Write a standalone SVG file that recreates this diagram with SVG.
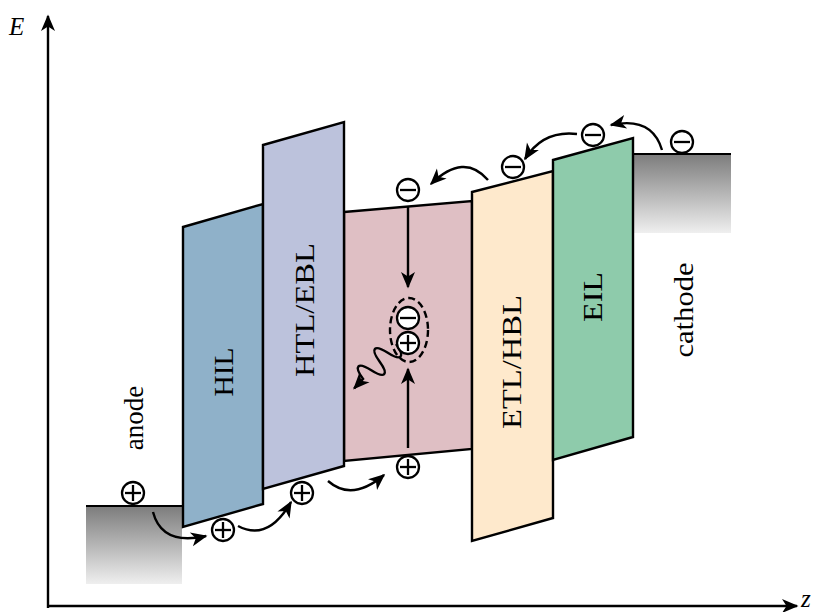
<svg xmlns="http://www.w3.org/2000/svg" xmlns:xlink="http://www.w3.org/1999/xlink" width="822" height="612" viewBox="0 0 822 612">
  <style>
    .layer { stroke: #000; stroke-width: 2.4; stroke-linejoin: miter; }
    .lbl { font-family: "Liberation Serif", "DejaVu Serif", serif; font-size: 27px; fill: #000; text-anchor: middle; }
    .axlbl { font-family: "Liberation Serif", "DejaVu Serif", serif; font-style: italic; font-size: 25px; fill: #000; }
    .edge { stroke: #000; stroke-width: 2.4; fill: none; }
    .arr { marker-end: url(#stealth); }
    .chg circle { fill: #fff; stroke: #000; stroke-width: 2.3; }
    .chg line { stroke: #000; stroke-width: 2.3; }
  </style>
  <defs>
    <linearGradient id="metal" x1="0" y1="0" x2="0" y2="1">
      <stop offset="0" stop-color="#7c7c7c"/>
      <stop offset="1" stop-color="#efefef"/>
    </linearGradient>
    <marker id="stealth" viewBox="-18 -9 20 18" markerWidth="20" markerHeight="18" refX="0" refY="0" orient="auto" markerUnits="userSpaceOnUse">
      <path d="M1.5,0 L-15,-7 L-10.5,0 L-15,7 Z" fill="#000"/>
    </marker>
    <g id="hole" class="chg">
      <circle r="11"/>
      <line x1="-8" y1="0" x2="8" y2="0"/>
      <line x1="0" y1="-8" x2="0" y2="8"/>
    </g>
    <g id="electron" class="chg">
      <circle r="11"/>
      <line x1="-8" y1="0" x2="8" y2="0" stroke-width="3"/>
    </g>
  </defs>

  <!-- energy and position axes -->
  <g id="axes">
    <line class="edge arr" x1="48" y1="608" x2="48" y2="16"/>
    <line class="edge arr" x1="47" y1="606" x2="797" y2="606"/>
    <text class="axlbl" x="9" y="35">E</text>
    <text class="axlbl" x="801" y="607" font-size="22">z</text>
  </g>

  <!-- anode contact -->
  <g id="anode">
    <rect x="86" y="506" width="96" height="78" fill="url(#metal)"/>
    <line x1="86" y1="506" x2="182" y2="506" stroke="#000" stroke-width="2.2"/>
    <text class="lbl" transform="translate(143,418) rotate(-90)">anode</text>
  </g>

  <!-- cathode contact -->
  <g id="cathode">
    <rect x="633" y="154" width="98" height="79" fill="url(#metal)"/>
    <line x1="633" y1="154" x2="731" y2="154" stroke="#000" stroke-width="2.2"/>
    <text class="lbl" transform="translate(693,310) rotate(-90)" textLength="95" lengthAdjust="spacingAndGlyphs">cathode</text>
  </g>

  <!-- emissive layer -->
  <g id="eml">
    <polygon class="layer" fill="#dfbfc4" points="344,212 472,201 472,449 344,461"/>
  </g>

  <!-- hole injection layer -->
  <g id="hil">
    <polygon class="layer" fill="#8fb1c9" points="183,227 263,204 263,504 183,527"/>
    <text class="lbl" transform="translate(233,372) rotate(-90)" textLength="49" lengthAdjust="spacingAndGlyphs">HIL</text>
  </g>

  <!-- hole transport / electron blocking layer -->
  <g id="htl">
    <polygon class="layer" fill="#bcc2dc" points="263,145 344,122 344,466 263,489"/>
    <text class="lbl" transform="translate(314,310) rotate(-90)" textLength="134" lengthAdjust="spacingAndGlyphs">HTL/EBL</text>
  </g>

  <!-- electron transport / hole blocking layer -->
  <g id="etl">
    <polygon class="layer" fill="#fee9cc" points="472,192 553,171 553,518 472,541"/>
    <text class="lbl" transform="translate(521,362) rotate(-90)" textLength="134" lengthAdjust="spacingAndGlyphs">ETL/HBL</text>
  </g>

  <!-- electron injection layer -->
  <g id="eil">
    <polygon class="layer" fill="#8ecbab" points="553,160 633,138 633,437 553,460"/>
    <text class="lbl" transform="translate(602,297) rotate(-90)" textLength="50" lengthAdjust="spacingAndGlyphs">EIL</text>
  </g>

  <!-- carrier hops, recombination and emission -->
  <g id="connectors">
    <path class="edge arr" d="M153,512 Q162,546 206,536"/>
    <path class="edge arr" d="M238,526 Q268,542 291,502"/>
    <path class="edge arr" d="M328,481 Q352,502 384,475"/>
    <path class="edge arr" d="M408,206 L408,287"/>
    <path class="edge arr" d="M408,448 L408,369"/>
    <path class="edge arr" d="M488,180 Q464,152 431,184"/>
    <path class="edge arr" d="M577,134 Q543,130 525,159"/>
    <path class="edge arr" d="M662,150 Q652,116 611,125"/>
    <path class="edge arr" transform="translate(396,344) rotate(133.3)" d="M0,0 C3,-16 9,-16 12,0 S21,16 24,0 S33,-16 36,0 S45,16 48,0 L61,0"/>
    <ellipse cx="409" cy="330" rx="19" ry="32" fill="none" stroke="#000" stroke-width="2.4" stroke-dasharray="7 4"/>
  </g>

  <!-- charge carriers -->
  <g id="carriers">
    <use xlink:href="#hole" x="133" y="493"/>
    <use xlink:href="#hole" x="223" y="530"/>
    <use xlink:href="#hole" x="302" y="493"/>
    <use xlink:href="#hole" x="408" y="467"/>
    <use xlink:href="#hole" x="408" y="343"/>
    <use xlink:href="#electron" x="408" y="318"/>
    <use xlink:href="#electron" x="408" y="190"/>
    <use xlink:href="#electron" x="513" y="167"/>
    <use xlink:href="#electron" x="593" y="135"/>
    <use xlink:href="#electron" x="682" y="142"/>
  </g>
</svg>
